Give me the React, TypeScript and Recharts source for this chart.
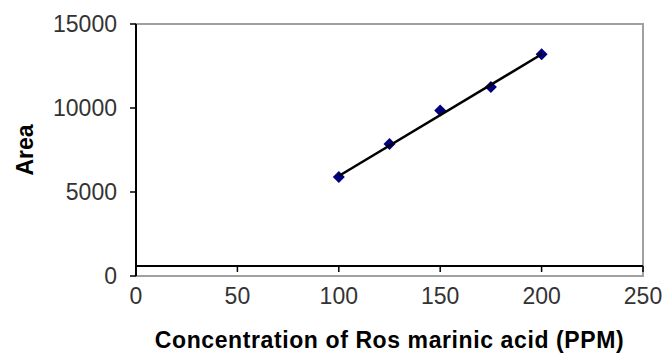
import React from 'react';
import {
  ScatterChart,
  Scatter,
  XAxis,
  YAxis,
  ReferenceArea,
  ReferenceLine,
  Label,
} from 'recharts';

// calibration points
const concentrations = [100, 125, 150, 175, 200];
const areas = [5900, 7850, 9850, 11250, 13200];

// ends of the linear trendline
const trendConc = [100, 200];
const trendArea = [5950, 13200];

const xTicks = [0, 50, 100, 150, 200, 250];
const yTicks = [0, 5000, 10000, 15000];

// the category axis crosses the value axis a little above 0
const X_CROSS = 600;
const X_TICK_END = 240;

const points = concentrations.map((c, i) => ({ x: c, y: areas[i] }));
const trend = trendConc.map((c, i) => ({ x: c, y: trendArea[i] }));

const FONT = '"Liberation Sans", Arial, sans-serif';

function Diamond(props: any) {
  const { cx, cy } = props;
  const r = 6;
  return (
    <polygon
      points={`${cx},${cy - r} ${cx + r},${cy} ${cx},${cy + r} ${cx - r},${cy}`}
      fill="#000080"
    />
  );
}

function YTitle(props: any) {
  const { viewBox } = props;
  const x = viewBox.x + 33;
  const y = viewBox.y + viewBox.height / 2;
  return (
    <text
      x={x}
      y={y}
      transform={`rotate(-90, ${x}, ${y})`}
      textAnchor="middle"
      fontFamily={FONT}
      fontSize={23}
      fontWeight="bold"
      fill="#000"
    >
      Area
    </text>
  );
}

export default function App() {
  return (
    <div style={{ position: 'absolute', left: 0, top: 0, background: '#fff' }}>
      <ScatterChart
        width={664}
        height={354}
        margin={{ top: 24, right: 21, left: 0, bottom: 0 }}
      >
        <ReferenceArea
          x1={0}
          x2={250}
          y1={0}
          y2={15000}
          fill="none"
          stroke="#a0a0a0"
          strokeWidth={2}
        />
        <XAxis
          type="number"
          dataKey="x"
          domain={[0, 250]}
          ticks={xTicks}
          height={78}
          axisLine={false}
          tickLine={false}
          tickSize={0}
          tickMargin={12}
          tick={{ fontFamily: FONT, fontSize: 23, fill: '#333' }}
          allowDataOverflow
        >
          <Label
            value="Concentration of Ros marinic acid (PPM)"
            position="insideBottom"
            offset={6}
            style={{
              fontFamily: FONT,
              fontSize: 23,
              fontWeight: 'bold',
              fill: '#000',
              letterSpacing: '0.6px',
            }}
          />
        </XAxis>
        <YAxis
          type="number"
          dataKey="y"
          domain={[0, 15000]}
          ticks={yTicks}
          width={136}
          axisLine={{ stroke: '#000', strokeWidth: 2 }}
          tickLine={{ stroke: '#000', strokeWidth: 1.5 }}
          tickSize={6}
          tickMargin={13}
          tick={{ fontFamily: FONT, fontSize: 23, fill: '#333' }}
          allowDataOverflow
        >
          <Label content={<YTitle />} />
        </YAxis>
        <ReferenceLine y={X_CROSS} stroke="#000" strokeWidth={2} />
        {xTicks.slice(1).map((t) => (
          <ReferenceLine
            key={t}
            segment={[
              { x: t, y: X_CROSS },
              { x: t, y: X_TICK_END },
            ]}
            stroke="#000"
            strokeWidth={1.5}
          />
        ))}
        <Scatter
          data={points}
          shape={<Diamond />}
          isAnimationActive={false}
        />
        <Scatter
          data={trend}
          line={{ stroke: '#000', strokeWidth: 2.5 }}
          shape={() => <g />}
          isAnimationActive={false}
        />
      </ScatterChart>
    </div>
  );
}
